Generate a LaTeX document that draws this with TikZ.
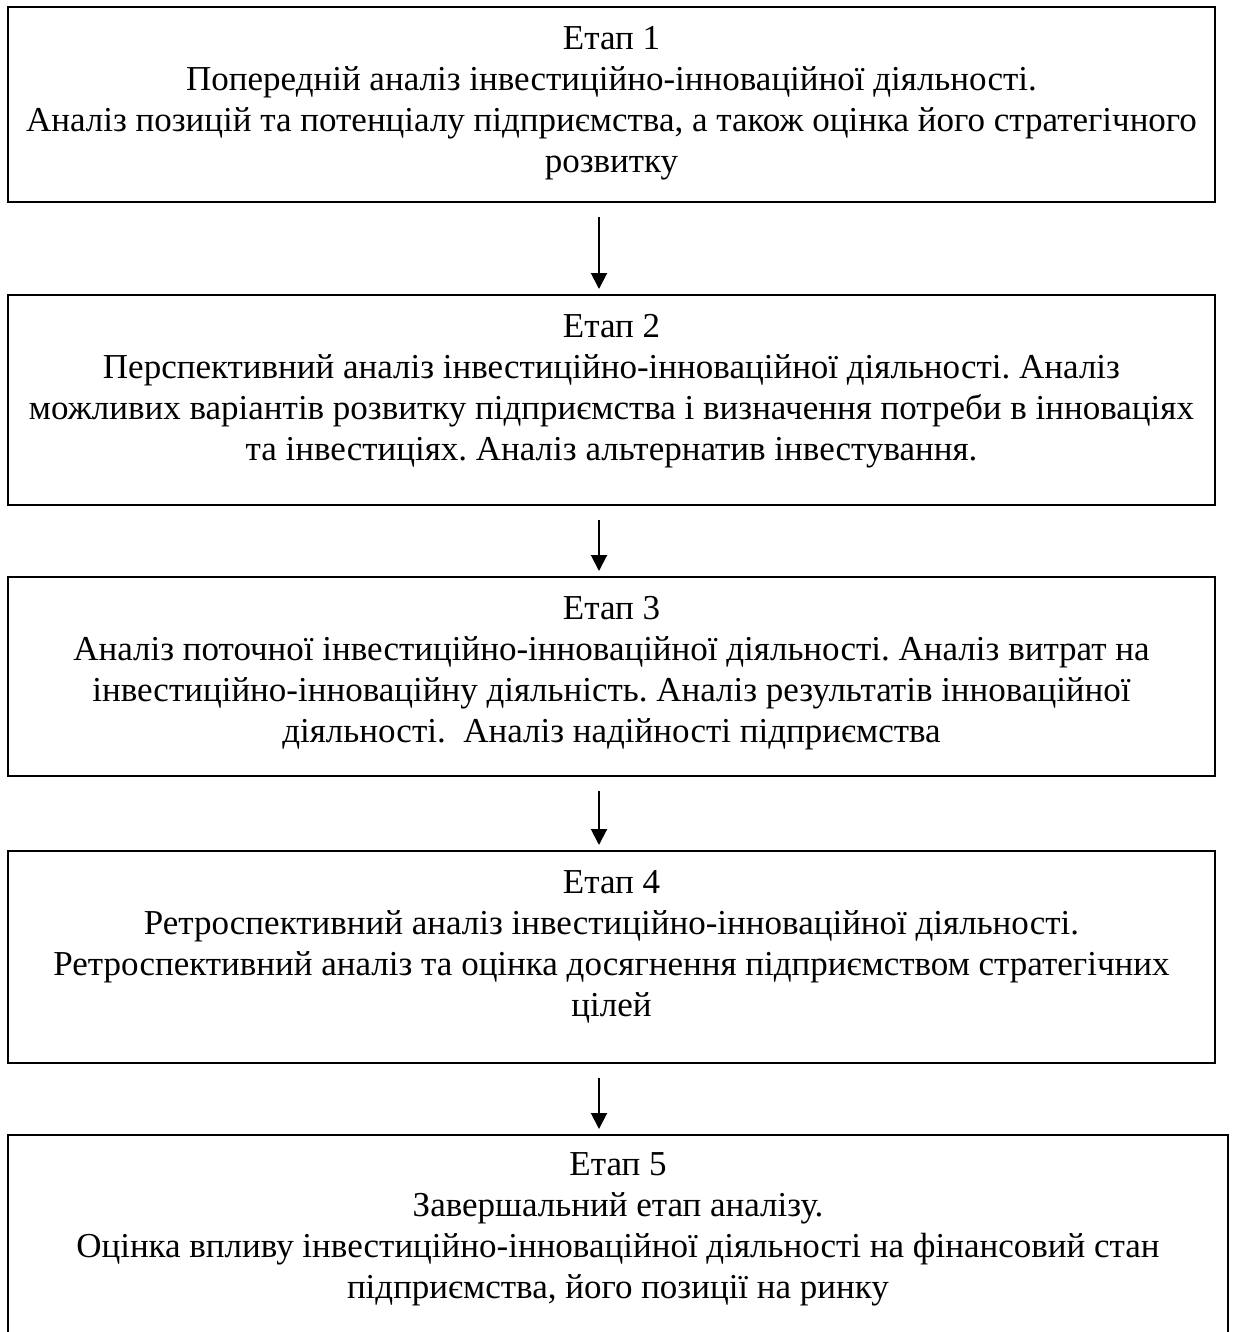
\documentclass[tikz,border=0pt]{standalone}
\usepackage{fontspec}
\setmainfont{Liberation Serif}
\usetikzlibrary{arrows.meta}
\newcommand{\px}{0.4pt}
\frenchspacing

\begin{document}
\begin{tikzpicture}[x=\px,y=-\px,
    stagebox/.style={draw,line width=0.8pt,inner sep=0pt,minimum width=1207*\px},
    stagetext/.style={anchor=north,align=center,inner sep=0pt,
      font=\fontsize{14}{16.4}\selectfont},
    flowarrow/.style={-{Triangle[width=6.4pt,length=6.4pt]},line width=0.8pt,
      shorten <=5.6pt,shorten >=2pt}]
  \useasboundingbox (0,0) rectangle (1234,1332);
  \coordinate (ax) at (599,0);
  \node[stagebox,minimum height=195*\px] (s1) at (611.5,104.5) {};
  \node[stagebox,minimum height=210*\px] (s2) at (611.5,400) {};
  \node[stagebox,minimum height=199*\px] (s3) at (611.5,676.5) {};
  \node[stagebox,minimum height=212*\px] (s4) at (611.5,957) {};
  \node[stagebox,minimum width=1220*\px,minimum height=205*\px] (s5) at (618,1237.5) {};
  \node[stagetext] (t1) at ([yshift=-20*\px]s1.north) {Етап 1\\
    Попередній аналіз інвестиційно-інноваційної діяльності.\\
    Аналіз позицій та потенціалу підприємства, а також оцінка його стратегічного\\
    розвитку};
  \node[stagetext] (t2) at ([yshift=-20*\px]s2.north) {Етап 2\\
    Перспективний аналіз інвестиційно-інноваційної діяльності. Аналіз\\
    можливих варіантів розвитку підприємства і визначення потреби в інноваціях\\
    та інвестиціях. Аналіз альтернатив інвестування.};
  \node[stagetext] (t3) at ([yshift=-20*\px]s3.north) {Етап 3\\
    Аналіз поточної інвестиційно-інноваційної діяльності. Аналіз витрат на\\
    інвестиційно-інноваційну діяльність. Аналіз результатів інноваційної\\
    діяльності.~ Аналіз надійності підприємства};
  \node[stagetext] (t4) at ([yshift=-20*\px]s4.north) {Етап 4\\
    Ретроспективний аналіз інвестиційно-інноваційної діяльності.\\
    Ретроспективний аналіз та оцінка досягнення підприємством стратегічних\\
    цілей};
  \node[stagetext] (t5) at ([yshift=-18*\px]s5.north) {Етап 5\\
    Завершальний етап аналізу.\\
    Оцінка впливу інвестиційно-інноваційної діяльності на фінансовий стан\\
    підприємства, його позиції на ринку};
  \foreach \a/\b in {s1/s2,s2/s3,s3/s4,s4/s5}
    \draw[flowarrow] (\a.south -| ax) -- (\b.north -| ax);
\end{tikzpicture}
\end{document}
